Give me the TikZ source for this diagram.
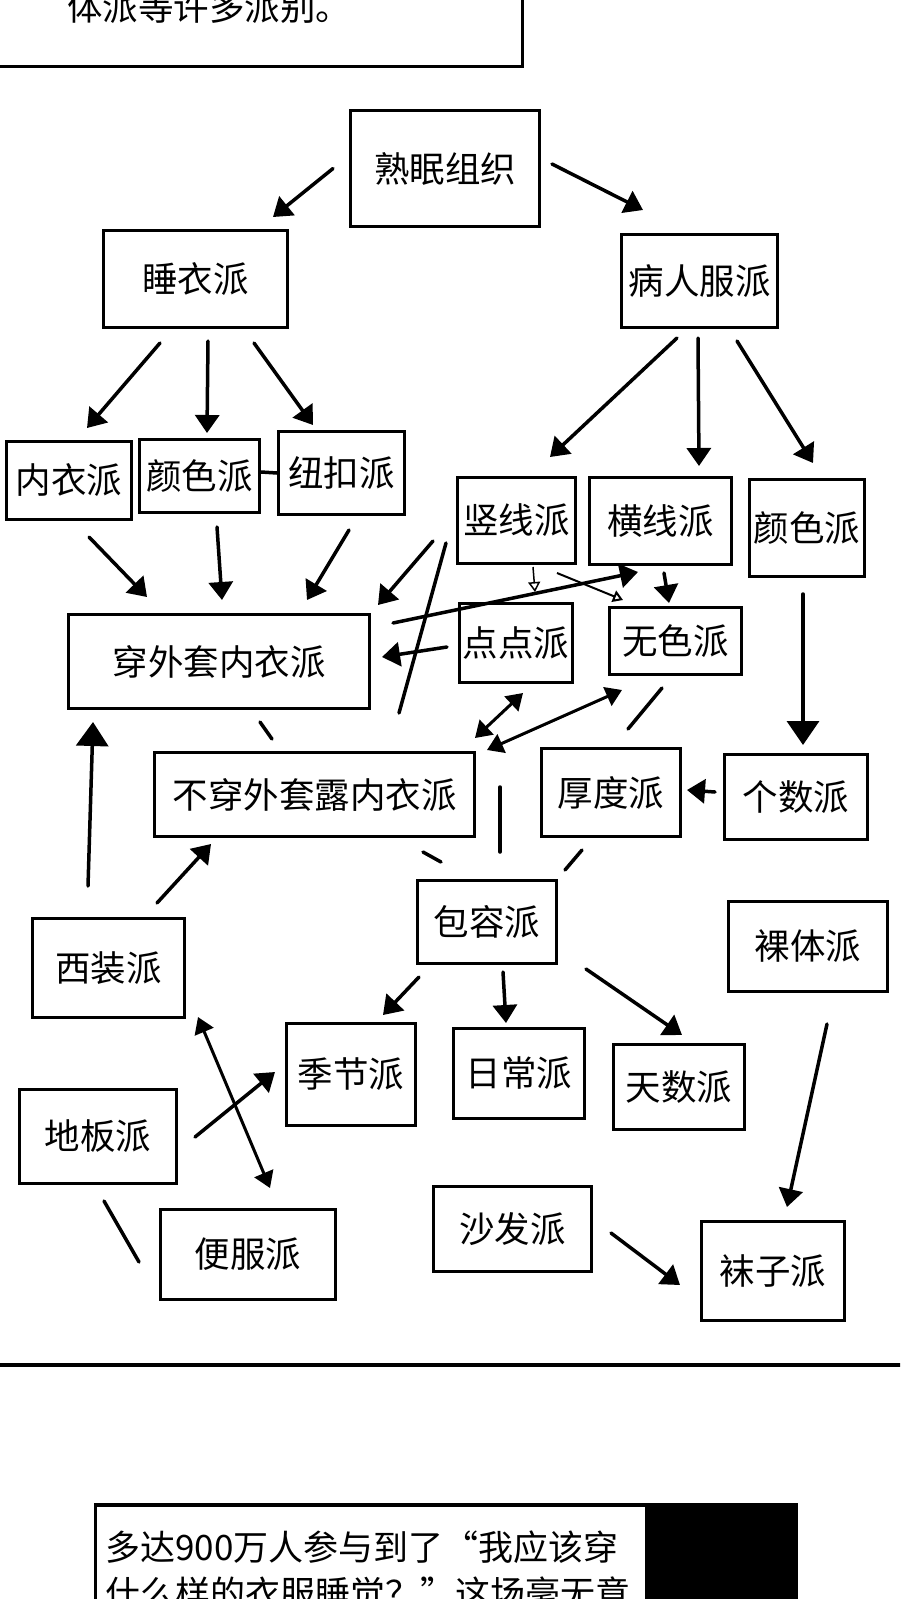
\documentclass[tikz,border=0pt]{standalone}
\usepackage{fontspec}
\newfontfamily\cjk{Noto Sans CJK SC}
\usetikzlibrary{arrows.meta, calc}

\tikzset{
  pai/.style 2 args={draw, line width=3pt, inner sep=0pt, minimum width=#1pt, minimum height=#2pt,
    font=\cjk\fontsize{35.5}{40}\selectfont},
  wenzi/.style={inner sep=0pt, font=\cjk\fontsize{35.5}{40}\selectfont},
  jian/.style={line width=3.5pt, line cap=round, -{Triangle[length=18pt, width=24pt]}},
  dajian/.style={line width=3.5pt, line cap=round, -{Triangle[length=24pt, width=32pt]}},
  shuangjian/.style={line width=3pt, line cap=round, {Triangle[length=16pt, width=20pt]}-{Triangle[length=16pt, width=20pt]}},
  xijian/.style={line width=1.5pt, -{Triangle[open, length=10pt, width=12pt]}},
  xian/.style={line width=3.5pt, line cap=round},
}

\begin{document}
\begin{tikzpicture}[x=1pt, y=-1pt]
  \path[use as bounding box, fill=white] (0,0) rectangle (900,1599);
  \clip (0,0) rectangle (900,1599);

  % Panel above
  \draw[line width=3pt] (-10,-10) rectangle (522,66);
  \node[wenzi, anchor=base west] (toptxt) at (67,20) {体派等许多派别。};

  % Boxes
  \node[pai={189}{116}] (shumian) at (445, 168.5) {熟眠组织};
  \node[pai={184}{97}] (shuiyi) at (195.5, 279) {睡衣派};
  \node[pai={156}{93}] (bingren) at (699.5, 281) {病人服派};
  \node[pai={125}{78}] (neiyi) at (69, 480.5) {内衣派};
  \node[pai={120}{73}] (yanseL) at (199.5, 476) {颜色派};
  \node[pai={126}{83}] (niukou) at (341.5, 473) {纽扣派};
  \node[pai={118}{86}] (shuxian) at (516.5, 520.5) {竖线派};
  \node[pai={142}{87}] (hengxian) at (660.5, 521) {横线派};
  \node[pai={115}{97}] (yanseR) at (807, 528) {颜色派};
  \node[pai={301}{94}] (chuanwai) at (219, 661.5) {穿外套内衣派};
  \node[pai={113}{79}] (diandian) at (516, 643) {点点派};
  \node[pai={132}{67}] (wuse) at (675.5, 641) {无色派};
  \node[pai={320}{84}] (buchuan) at (314.5, 794.5) {不穿外套露内衣派};
  \node[pai={139}{88}] (houdu) at (611, 792.5) {厚度派};
  \node[pai={143}{85}] (geshu) at (796, 797) {个数派};
  \node[pai={139}{83}] (baorong) at (487, 922) {包容派};
  \node[pai={152}{99}] (xizhuang) at (108.5, 968) {西装派};
  \node[pai={159}{90}] (luoti) at (808, 946.5) {裸体派};
  \node[pai={129}{102}] (jijie) at (351, 1074.5) {季节派};
  \node[pai={131}{90}] (richang) at (519, 1073.5) {日常派};
  \node[pai={131}{85}] (tianshu) at (679, 1087) {天数派};
  \node[pai={157}{94}] (diban) at (98, 1136.5) {地板派};
  \node[pai={175}{90}] (bianfu) at (248, 1254.5) {便服派};
  \node[pai={158}{85}] (shafa) at (512.5, 1229) {沙发派};
  \node[pai={143}{99}] (wazi) at (773, 1271) {袜子派};

  % Top levels
  \draw[jian] ($(shumian)+(-112,0)$) -- ($(shuiyi)+(77.5,-62)$);
  \draw[jian] ($(shumian)+(107,-4.5)$) -- ($(bingren)+(-56.5,-71)$);
  \draw[jian] ($(shuiyi)+(-35.5,64)$) -- ($(neiyi)+(18,-52.5)$);
  \draw[jian] ($(shuiyi)+(12.5,62)$) -- ($(yanseL)+(7.5,-43)$);
  \draw[jian] ($(shuiyi)+(58.5,64)$) -- ($(niukou)+(-28.5,-48)$);
  \draw[jian] ($(bingren)+(-22.5,57)$) -- ($(shuxian)+(33.5,-63.5)$);
  \draw[jian] ($(bingren)+(-1.5,57)$) -- ($(hengxian)+(38.5,-55)$);
  \draw[jian] ($(bingren)+(37.5,60)$) -- ($(yanseR)+(6,-65)$);
  \draw[xian] ($(yanseL.east)+(0,-4)$) -- (niukou.west);

  % Into the middle
  \draw[jian] ($(neiyi)+(20,56.5)$) -- ($(chuanwai)+(-72,-64.5)$);
  \draw[jian] ($(yanseL)+(17.5,51)$) -- ($(chuanwai)+(3,-61.5)$);
  \draw[jian] ($(niukou)+(7.5,57)$) -- ($(chuanwai)+(88,-61.5)$);
  \draw[jian] ($(shuxian)+(-83.5,20.5)$) -- ($(chuanwai)+(159,-56.5)$);
  \draw[xian] ($(shuxian)+(-70.5,22.5)$) -- ($(buchuan)+(84.5,-81.5)$);
  \draw[jian] ($(chuanwai)+(174,-38.5)$) -- ($(hengxian)+(-22.5,51)$);
  \draw[jian] ($(diandian)+(-69,4)$) -- ($(chuanwai)+(163,-4.5)$);
  \draw[xijian] ($(shuxian)+(16.5,46.5)$) -- ($(diandian)+(19,-51)$);
  \draw[xijian, line width=2pt] ($(shuxian)+(40.5,52.5)$) -- ($(wuse)+(-52.5,-41)$);
  \draw[jian] ($(hengxian)+(3.5,52)$) -- ($(wuse)+(-6.5,-38)$);
  \draw[shuangjian] ($(diandian)+(7,50)$) -- ($(buchuan)+(160.5,-56.5)$);
  \draw[shuangjian] ($(wuse)+(-53.5,49)$) -- ($(buchuan)+(172.5,-44.5)$);
  \draw[xian] ($(wuse)+(-13.5,47)$) -- ($(houdu)+(17,-63.5)$);
  \draw[xian] ($(chuanwai)+(41,60.5)$) -- ($(buchuan)+(-42.5,-55.5)$);
  \draw[dajian] ($(yanseR)+(-4,66)$) -- ($(geshu)+(7,-52)$);
  \draw[jian] ($(geshu)+(-81,-5)$) -- ($(houdu)+(76,-2.5)$);
  \draw[xian] ($(buchuan)+(185.5,-7.5)$) -- ($(baorong)+(13,-70)$);
  \draw[xian] ($(buchuan)+(108.5,57.5)$) -- ($(baorong)+(-46,-60)$);
  \draw[xian] ($(houdu)+(-29,57.5)$) -- ($(baorong)+(78,-52)$);

  % Lower part
  \draw[dajian] ($(xizhuang)+(-20.5,-82)$) -- ($(chuanwai)+(-126,60.5)$);
  \draw[jian] ($(xizhuang)+(48.5,-65)$) -- ($(buchuan)+(-103.5,49.5)$);
  \draw[jian] ($(baorong)+(-68,55)$) -- ($(jijie)+(32,-59.5)$);
  \draw[jian] ($(baorong)+(16,50)$) -- ($(richang)+(-13,-50.5)$);
  \draw[jian] ($(baorong)+(99,47)$) -- ($(tianshu)+(3,-52)$);
  \draw[jian] ($(luoti)+(19,77.5)$) -- ($(wazi)+(14,-64)$);
  \draw[shuangjian] ($(xizhuang)+(89.5,49)$) -- ($(bianfu)+(22,-66.5)$);
  \draw[jian] ($(diban)+(97,0.5)$) -- ($(jijie)+(-76,-2.5)$);
  \draw[xian] ($(diban)+(6,64.5)$) -- ($(bianfu)+(-109,7.5)$);
  \draw[jian] ($(shafa)+(98.5,4)$) -- ($(wazi)+(-93,14)$);

  % Panel rule
  \draw[line width=3.5pt] (-5,1365) -- (905,1365);

  % Panel below
  \fill (94,1503) rectangle (798,1620);
  \fill[white] (97,1507) rectangle (645,1620);
  \node[wenzi, font=\cjk\fontsize{35}{44}\selectfont, anchor=base west] (bottomtxtA) at (105,1560) {多达900万人参与到了“我应该穿};
  \node[wenzi, font=\cjk\fontsize{35}{44}\selectfont, anchor=base west] (bottomtxtB) at (105,1606) {什么样的衣服睡觉？”这场毫无意};
\end{tikzpicture}
\end{document}
